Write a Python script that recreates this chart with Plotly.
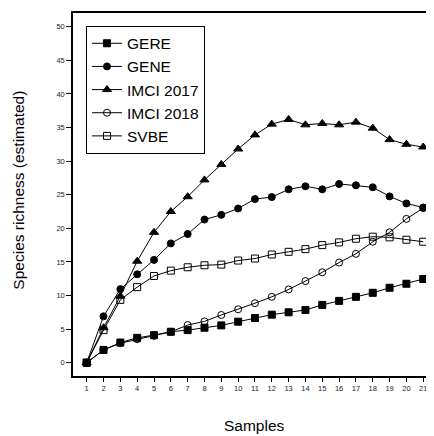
import plotly.graph_objects as go

samples = list(range(1, 22))
x_tick_labels = [str(s) for s in samples]
y_tick_values = [0, 5, 10, 15, 20, 25, 30, 35, 40, 45, 50]

gere = [0, 1.9, 3.0, 3.7, 4.1, 4.6, 4.85, 5.2, 5.55, 6.1, 6.65, 7.15, 7.5, 7.85, 8.6, 9.2, 9.8, 10.4, 11.15, 11.75, 12.45]
gene = [0, 6.9, 10.95, 13.15, 15.3, 17.75, 19.15, 21.3, 22.0, 22.95, 24.35, 24.65, 25.8, 26.25, 25.8, 26.6, 26.4, 26.1, 24.75, 23.7, 23.1]
imci2017 = [0, 5.2, 9.9, 15.1, 19.4, 22.5, 24.7, 27.2, 29.5, 31.8, 33.9, 35.5, 36.2, 35.4, 35.6, 35.4, 35.8, 34.9, 33.2, 32.5, 32.1]
imci2018 = [0, 1.9, 2.9, 3.5, 4.0, 4.6, 5.6, 6.15, 7.1, 7.95, 8.85, 9.8, 10.9, 12.15, 13.45, 14.9, 16.2, 18.0, 19.4, 21.4, 23.0]
svbe = [0, 4.85, 9.35, 11.25, 12.9, 13.7, 14.2, 14.5, 14.6, 15.2, 15.5, 16.1, 16.5, 16.9, 17.5, 17.9, 18.45, 18.75, 18.65, 18.3, 18.0]

series = [
    ("GERE", gere, "square"),
    ("GENE", gene, "circle"),
    ("IMCI 2017", imci2017, "triangle-up"),
    ("IMCI 2018", imci2018, "circle-open"),
    ("SVBE", svbe, "square-open"),
]

fig = go.Figure()
for name, vals, sym in series:
    marker = dict(symbol=sym, size=7, color="black", line=dict(color="black", width=1))
    if sym == "triangle-up":
        marker["size"] = 8
    fig.add_trace(go.Scatter(
        x=samples, y=vals, name=name, mode="lines+markers",
        line=dict(color="black", width=1), marker=marker,
    ))

font_family = "Liberation Sans, Arial, sans-serif"
# page body has an 8px margin, so the figure is sized/offset to compensate
fig.update_layout(
    width=426, height=428,
    margin=dict(l=65, r=0, t=5, b=60, autoexpand=False),
    paper_bgcolor="white", plot_bgcolor="white",
    font=dict(family=font_family, color="black"),
    showlegend=True,
    legend=dict(
        x=0.036, y=0.965, xanchor="left", yanchor="top",
        bordercolor="black", borderwidth=1, bgcolor="white",
        font=dict(size=15.5, family=font_family, color="black"),
        itemwidth=30, tracegroupgap=0,
    ),
    xaxis=dict(
        range=[0.186, 21.64], tickmode="array", tickvals=samples, ticktext=x_tick_labels,
        showgrid=False, zeroline=False, showline=True, linecolor="black", linewidth=1.5,
        mirror=True, ticks="outside", ticklen=4, tickcolor="black", tickwidth=1,
        tickfont=dict(size=7.5, color="#222222"), automargin=False,
        ticklabeloverflow="allow",
    ),
    yaxis=dict(
        range=[-1.98, 52.04], tickmode="array", tickvals=y_tick_values,
        showgrid=False, zeroline=False, showline=True, linecolor="black", linewidth=1.5,
        ticks="outside", ticklen=5, tickcolor="black", tickwidth=1,
        tickfont=dict(size=7.5, color="#222222"), automargin=False,
    ),
    annotations=[
        dict(text="Samples", xref="paper", yref="paper", x=0.504, y=-0.135,
             xanchor="center", yanchor="middle", showarrow=False,
             font=dict(size=15.5, color="black", family=font_family)),
        dict(text="Species richness (estimated)", xref="paper", yref="paper",
             x=-0.151, y=0.512, xanchor="center", yanchor="middle", textangle=-90,
             showarrow=False, font=dict(size=15.5, color="black", family=font_family)),
    ],
)

fig.write_html("out.html")
